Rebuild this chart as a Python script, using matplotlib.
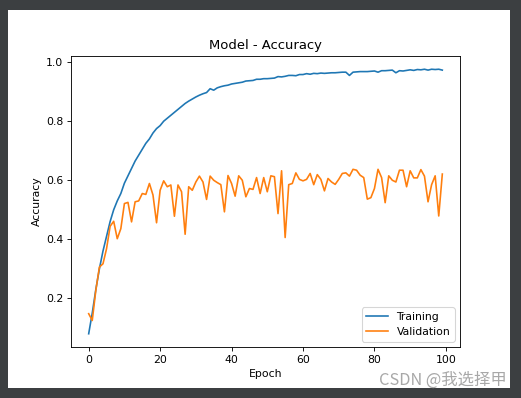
import matplotlib
matplotlib.use('Agg')
import matplotlib.pyplot as plt
from matplotlib.patches import Rectangle

# Datos
epochs = list(range(100))

train_acc = [0.08, 0.15, 0.23, 0.30, 0.36, 0.41, 0.46, 0.50, 0.53, 0.555,
             0.59, 0.615, 0.64, 0.665, 0.685, 0.705, 0.725, 0.74, 0.76, 0.775,
             0.785, 0.80, 0.81, 0.82, 0.83, 0.84, 0.85, 0.86, 0.868, 0.875,
             0.882, 0.888, 0.893, 0.897, 0.910, 0.905, 0.913, 0.917, 0.920, 0.922,
             0.926, 0.928, 0.930, 0.932, 0.936, 0.937, 0.938, 0.942, 0.942, 0.944,
             0.944, 0.945, 0.946, 0.951, 0.950, 0.952, 0.955, 0.955, 0.954, 0.958,
             0.958, 0.961, 0.959, 0.962, 0.961, 0.963, 0.962, 0.963, 0.964, 0.964,
             0.965, 0.966, 0.966, 0.955, 0.966, 0.967, 0.968, 0.968, 0.968, 0.969,
             0.970, 0.966, 0.971, 0.971, 0.972, 0.973, 0.964, 0.971, 0.970, 0.972,
             0.974, 0.972, 0.975, 0.974, 0.976, 0.973, 0.976, 0.975, 0.976, 0.973]

val_acc = [0.148, 0.125, 0.227, 0.306, 0.317, 0.368, 0.444, 0.461, 0.402, 0.436,
           0.521, 0.525, 0.459, 0.527, 0.530, 0.555, 0.552, 0.589, 0.550, 0.456,
           0.566, 0.598, 0.578, 0.584, 0.478, 0.584, 0.561, 0.417, 0.578, 0.566,
           0.594, 0.614, 0.594, 0.535, 0.614, 0.600, 0.592, 0.585, 0.493, 0.616,
           0.589, 0.546, 0.615, 0.600, 0.544, 0.572, 0.569, 0.609, 0.555, 0.609,
           0.561, 0.615, 0.612, 0.487, 0.632, 0.406, 0.585, 0.589, 0.625, 0.603,
           0.598, 0.603, 0.623, 0.585, 0.619, 0.603, 0.564, 0.606, 0.594, 0.586,
           0.603, 0.623, 0.625, 0.614, 0.637, 0.634, 0.617, 0.609, 0.536, 0.541,
           0.572, 0.637, 0.609, 0.524, 0.615, 0.600, 0.594, 0.634, 0.634, 0.578,
           0.632, 0.608, 0.608, 0.636, 0.614, 0.527, 0.585, 0.615, 0.479, 0.621]

dpi = 78.5
fig = plt.figure(figsize=(521 / dpi, 398 / dpi), dpi=dpi, facecolor='#3c3f41')

# Zona blanca de la captura (detras de los ejes)
fig.patches.append(Rectangle((8 / 521, 10 / 398), 502 / 521, 378 / 398,
                             transform=fig.transFigure, facecolor='white',
                             edgecolor='none', zorder=-10))

ax = fig.add_axes([71 / 521, 1 - 347 / 398, 389 / 521, 291 / 398])
ax.plot(epochs, train_acc, label='Training')
ax.plot(epochs, val_acc, label='Validation')
ax.set_title('Model - Accuracy')
ax.set_xlabel('Epoch')
ax.set_ylabel('Accuracy')
ax.legend(loc='lower right')

# Marca de agua
fig.text(507 / 521, 1 - 389 / 398, 'CSDN @我选择甲', ha='right', va='bottom',
         fontsize=15, color='#a8a8a8', family=['Noto Sans CJK SC', 'DejaVu Sans'])

fig.savefig('out.png', dpi=dpi, facecolor=fig.get_facecolor())
